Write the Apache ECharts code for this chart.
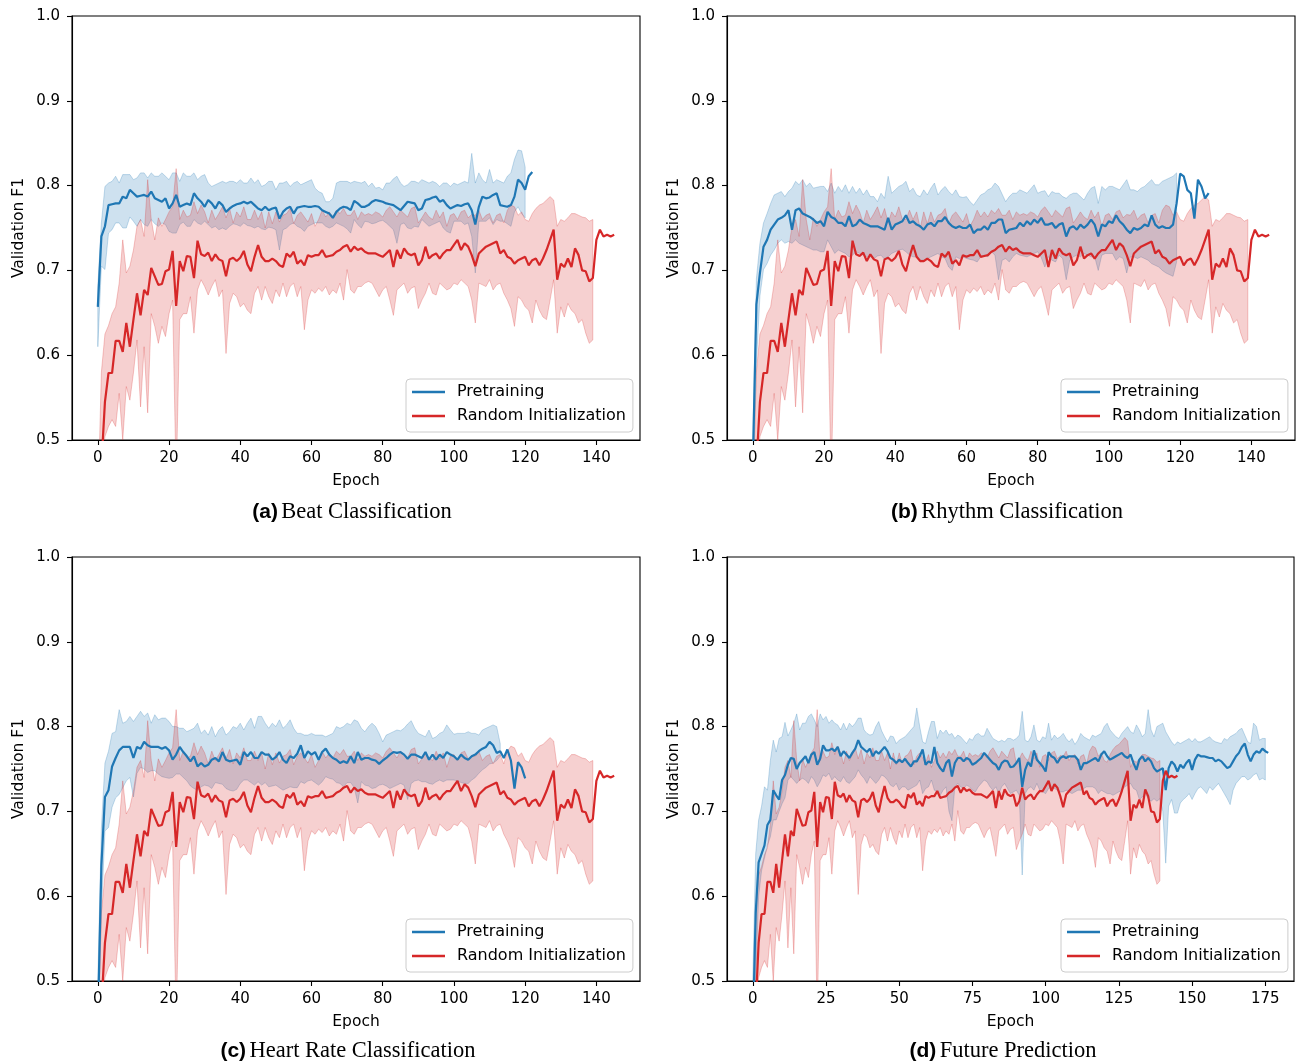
<!DOCTYPE html>
<html>
<head>
<meta charset="utf-8">
<script src="https://cdn.jsdelivr.net/npm/echarts@6/dist/echarts.min.js"></script>
<style>html,body{margin:0;padding:0;background:#fff}#c{width:1300px;height:1062px}</style>
</head>
<body>
<div id="c"></div>
<script>
// ---------- tick labels ----------
const EPOCH_TICKS_140 = [0, 20, 40, 60, 80, 100, 120, 140];
const EPOCH_TICKS_175 = [0, 25, 50, 75, 100, 125, 150, 175];
const F1_TICKS = [0.5, 0.6, 0.7, 0.8, 0.9, 1.0];
const SERIES_NAMES = ['Pretraining', 'Random Initialization'];

// ---------- Random Initialization (same run in all four panels) ----------
const randMean = [0.36,0.47,0.545,0.579,0.579,0.617,0.617,0.604,0.638,0.610,
 0.642,0.673,0.647,0.677,0.671,0.703,0.693,0.683,0.684,0.699,
 0.701,0.723,0.658,0.711,0.699,0.717,0.716,0.691,0.735,0.719,
 0.717,0.721,0.711,0.719,0.713,0.711,0.693,0.713,0.715,0.711,
 0.715,0.723,0.707,0.699,0.716,0.730,0.716,0.711,0.711,0.714,
 0.711,0.706,0.704,0.720,0.716,0.722,0.708,0.712,0.706,0.718,
 0.716,0.718,0.718,0.724,0.716,0.717,0.718,0.722,0.724,0.728,
 0.730,0.722,0.728,0.724,0.726,0.722,0.720,0.720,0.720,0.718,
 0.716,0.720,0.724,0.704,0.724,0.714,0.726,0.720,0.718,0.720,
 0.706,0.712,0.728,0.714,0.718,0.720,0.714,0.720,0.724,0.724,
 0.730,0.736,0.724,0.732,0.728,0.718,0.705,0.720,0.724,0.728,
 0.730,0.732,0.734,0.720,0.724,0.716,0.714,0.708,0.712,0.714,
 0.716,0.706,0.712,0.714,0.706,0.714,0.724,0.736,0.748,0.689,
 0.708,0.704,0.714,0.704,0.726,0.718,0.700,0.699,0.687,0.691,
 0.736,0.748,0.740,0.742,0.740,0.742];
const randLo = [0.30,0.46,0.504,0.516,0.524,0.516,0.555,0.500,0.563,0.547,
 0.579,0.618,0.539,0.610,0.532,0.649,0.634,0.614,0.634,0.622,
 0.649,0.665,0.45,0.642,0.649,0.649,0.669,0.626,0.677,0.689,
 0.681,0.671,0.681,0.689,0.669,0.677,0.602,0.661,0.673,0.669,
 0.657,0.661,0.653,0.649,0.673,0.681,0.665,0.681,0.669,0.661,
 0.677,0.669,0.685,0.669,0.681,0.685,0.669,0.681,0.630,0.665,
 0.677,0.673,0.679,0.675,0.681,0.671,0.677,0.673,0.685,0.665,
 0.701,0.677,0.673,0.681,0.681,0.685,0.687,0.685,0.677,0.669,
 0.677,0.681,0.665,0.647,0.677,0.681,0.685,0.673,0.679,0.681,
 0.655,0.665,0.673,0.685,0.673,0.671,0.685,0.681,0.677,0.679,
 0.685,0.683,0.689,0.685,0.681,0.665,0.638,0.685,0.683,0.681,
 0.689,0.677,0.683,0.685,0.673,0.665,0.655,0.634,0.669,0.665,
 0.657,0.653,0.638,0.665,0.653,0.645,0.642,0.665,0.689,0.626,
 0.657,0.645,0.661,0.653,0.649,0.638,0.642,0.626,0.614,0.618];
const randHi = [0.42,0.58,0.625,0.635,0.649,0.657,0.685,0.736,0.697,0.705,
 0.724,0.752,0.760,0.740,0.807,0.760,0.736,0.762,0.752,0.760,
 0.769,0.775,0.820,0.760,0.771,0.763,0.765,0.781,0.767,0.777,
 0.769,0.756,0.771,0.760,0.767,0.775,0.762,0.773,0.756,0.769,
 0.763,0.775,0.760,0.760,0.771,0.760,0.769,0.750,0.769,0.755,
 0.769,0.757,0.765,0.767,0.773,0.755,0.765,0.769,0.763,0.757,
 0.767,0.752,0.760,0.771,0.763,0.769,0.763,0.771,0.767,0.773,
 0.765,0.765,0.771,0.760,0.769,0.765,0.767,0.765,0.769,0.767,
 0.763,0.771,0.775,0.769,0.763,0.771,0.767,0.763,0.773,0.775,
 0.756,0.762,0.769,0.763,0.760,0.771,0.762,0.769,0.752,0.765,
 0.767,0.760,0.769,0.771,0.762,0.766,0.765,0.771,0.760,0.765,
 0.767,0.756,0.765,0.767,0.756,0.771,0.777,0.775,0.765,0.769,
 0.760,0.758,0.767,0.773,0.777,0.779,0.783,0.787,0.783,0.752,
 0.760,0.758,0.762,0.767,0.767,0.765,0.763,0.762,0.758,0.760];

// ---------- Pretraining: (a) Beat Classification ----------
const beatMean = [0.657,0.740,0.752,0.777,0.778,0.779,0.779,0.787,0.785,0.795,
 0.791,0.787,0.788,0.789,0.787,0.793,0.785,0.783,0.781,0.785,
 0.773,0.779,0.789,0.775,0.777,0.779,0.777,0.791,0.785,0.781,
 0.775,0.783,0.779,0.773,0.781,0.777,0.769,0.773,0.776,0.778,
 0.779,0.781,0.779,0.781,0.777,0.773,0.771,0.775,0.771,0.773,
 0.774,0.761,0.769,0.773,0.775,0.767,0.774,0.775,0.776,0.775,
 0.775,0.776,0.775,0.771,0.769,0.767,0.762,0.769,0.773,0.775,
 0.774,0.771,0.782,0.779,0.775,0.775,0.777,0.781,0.783,0.782,
 0.781,0.779,0.778,0.777,0.774,0.771,0.776,0.781,0.780,0.779,
 0.771,0.773,0.783,0.784,0.786,0.787,0.781,0.783,0.777,0.773,
 0.775,0.777,0.776,0.778,0.779,0.771,0.754,0.775,0.787,0.785,
 0.786,0.789,0.791,0.777,0.776,0.775,0.777,0.787,0.807,0.803,
 0.795,0.811,0.816];
const beatLo = [0.610,0.705,0.701,0.744,0.748,0.756,0.756,0.750,0.750,0.763,
 0.758,0.752,0.760,0.754,0.752,0.760,0.755,0.752,0.756,0.754,
 0.746,0.744,0.744,0.754,0.757,0.752,0.752,0.760,0.756,0.754,
 0.758,0.754,0.750,0.752,0.748,0.750,0.748,0.752,0.755,0.754,
 0.752,0.756,0.753,0.752,0.750,0.752,0.749,0.748,0.751,0.750,
 0.748,0.724,0.748,0.750,0.754,0.756,0.752,0.750,0.746,0.752,
 0.754,0.756,0.756,0.756,0.752,0.750,0.752,0.756,0.754,0.752,
 0.749,0.744,0.760,0.754,0.750,0.758,0.757,0.755,0.756,0.758,
 0.759,0.756,0.752,0.748,0.732,0.754,0.756,0.750,0.749,0.752,
 0.751,0.760,0.756,0.752,0.754,0.756,0.758,0.750,0.746,0.744,
 0.758,0.758,0.758,0.754,0.756,0.740,0.697,0.758,0.758,0.758,
 0.762,0.754,0.760,0.758,0.758,0.755,0.752,0.769,0.775,0.767,
 0.762];
const beatHi = [0.681,0.756,0.799,0.803,0.805,0.811,0.803,0.813,0.813,0.813,
 0.807,0.809,0.815,0.815,0.809,0.815,0.811,0.811,0.815,0.811,
 0.807,0.815,0.815,0.805,0.815,0.811,0.811,0.815,0.807,0.811,
 0.813,0.803,0.799,0.801,0.803,0.805,0.803,0.805,0.805,0.803,
 0.807,0.803,0.803,0.809,0.803,0.807,0.799,0.801,0.805,0.805,
 0.795,0.803,0.803,0.805,0.799,0.803,0.805,0.801,0.803,0.805,
 0.807,0.797,0.793,0.791,0.781,0.781,0.785,0.803,0.805,0.805,
 0.805,0.803,0.805,0.804,0.803,0.805,0.799,0.803,0.797,0.798,
 0.795,0.803,0.803,0.808,0.811,0.803,0.799,0.801,0.805,0.805,
 0.803,0.807,0.805,0.803,0.805,0.803,0.799,0.803,0.803,0.799,
 0.803,0.801,0.803,0.805,0.803,0.838,0.803,0.815,0.807,0.803,
 0.819,0.803,0.807,0.805,0.803,0.811,0.815,0.831,0.842,0.841,
 0.822];

// ---------- Pretraining: (b) Rhythm Classification ----------
const rhythmMean = [0.47,0.660,0.697,0.728,0.736,0.748,0.754,0.760,0.762,0.765,
 0.771,0.748,0.771,0.773,0.767,0.765,0.763,0.760,0.756,0.758,
 0.752,0.769,0.763,0.761,0.756,0.756,0.752,0.764,0.752,0.754,
 0.760,0.756,0.754,0.752,0.752,0.752,0.750,0.748,0.762,0.748,
 0.754,0.756,0.758,0.765,0.756,0.758,0.754,0.752,0.748,0.754,
 0.756,0.752,0.758,0.758,0.763,0.756,0.752,0.750,0.752,0.750,
 0.750,0.754,0.744,0.748,0.748,0.752,0.748,0.756,0.756,0.760,
 0.760,0.744,0.748,0.749,0.750,0.756,0.752,0.758,0.754,0.760,
 0.756,0.762,0.754,0.754,0.756,0.750,0.754,0.756,0.740,0.750,
 0.752,0.748,0.754,0.750,0.754,0.760,0.754,0.740,0.754,0.752,
 0.758,0.756,0.765,0.758,0.754,0.748,0.744,0.750,0.748,0.750,
 0.754,0.752,0.765,0.754,0.750,0.752,0.750,0.750,0.754,0.779,
 0.814,0.811,0.795,0.791,0.761,0.807,0.799,0.785,0.791];
const rhythmLo = [0.44,0.59,0.670,0.701,0.708,0.718,0.724,0.732,0.736,0.732,
 0.734,0.732,0.736,0.732,0.730,0.728,0.726,0.724,0.724,0.722,
 0.722,0.736,0.728,0.720,0.724,0.722,0.720,0.716,0.718,0.722,
 0.720,0.718,0.716,0.716,0.714,0.717,0.718,0.713,0.716,0.720,
 0.722,0.724,0.725,0.722,0.718,0.716,0.716,0.712,0.712,0.714,
 0.716,0.718,0.720,0.716,0.714,0.704,0.700,0.716,0.714,0.716,
 0.714,0.713,0.712,0.710,0.716,0.718,0.716,0.722,0.718,0.689,
 0.712,0.714,0.710,0.716,0.720,0.718,0.717,0.716,0.718,0.720,
 0.722,0.715,0.704,0.716,0.712,0.710,0.718,0.714,0.689,0.712,
 0.716,0.718,0.716,0.720,0.718,0.716,0.716,0.700,0.718,0.720,
 0.720,0.720,0.712,0.716,0.714,0.697,0.716,0.716,0.714,0.716,
 0.714,0.712,0.708,0.706,0.704,0.700,0.697,0.695,0.693,0.710];
const rhythmHi = [0.50,0.690,0.732,0.756,0.767,0.779,0.789,0.791,0.793,0.787,
 0.793,0.797,0.805,0.801,0.807,0.799,0.803,0.797,0.798,0.799,
 0.799,0.793,0.803,0.791,0.799,0.793,0.801,0.791,0.799,0.791,
 0.797,0.789,0.795,0.787,0.787,0.781,0.791,0.785,0.811,0.791,
 0.795,0.799,0.801,0.805,0.793,0.797,0.789,0.787,0.795,0.789,
 0.797,0.803,0.789,0.795,0.799,0.793,0.789,0.795,0.787,0.786,
 0.787,0.781,0.777,0.783,0.789,0.791,0.795,0.797,0.803,0.799,
 0.790,0.781,0.787,0.791,0.791,0.795,0.793,0.791,0.796,0.801,
 0.791,0.793,0.794,0.787,0.793,0.791,0.791,0.787,0.785,0.789,
 0.791,0.791,0.787,0.783,0.791,0.797,0.799,0.779,0.799,0.795,
 0.799,0.799,0.797,0.795,0.801,0.807,0.795,0.795,0.793,0.797,
 0.799,0.803,0.807,0.801,0.801,0.805,0.807,0.809,0.811,0.815];

// ---------- Pretraining: (c) Heart Rate Classification ----------
const hrMean = [0.45,0.636,0.717,0.725,0.753,0.763,0.772,0.776,0.776,0.776,
 0.763,0.776,0.774,0.782,0.778,0.776,0.776,0.776,0.774,0.776,
 0.772,0.761,0.767,0.776,0.770,0.765,0.759,0.765,0.753,0.757,
 0.753,0.755,0.761,0.763,0.759,0.770,0.761,0.759,0.760,0.761,
 0.755,0.770,0.765,0.770,0.763,0.763,0.770,0.767,0.767,0.761,
 0.764,0.770,0.761,0.757,0.765,0.763,0.768,0.778,0.763,0.771,
 0.767,0.770,0.761,0.770,0.774,0.767,0.763,0.761,0.757,0.759,
 0.757,0.765,0.757,0.770,0.761,0.763,0.763,0.761,0.760,0.756,
 0.760,0.763,0.767,0.770,0.769,0.770,0.767,0.762,0.767,0.767,
 0.765,0.763,0.770,0.761,0.767,0.761,0.767,0.763,0.770,0.767,
 0.765,0.761,0.767,0.763,0.761,0.765,0.767,0.771,0.774,0.776,
 0.782,0.778,0.769,0.771,0.763,0.773,0.760,0.727,0.758,0.752,
 0.739];
const hrLo = [0.44,0.58,0.677,0.681,0.705,0.716,0.720,0.728,0.736,0.740,
 0.717,0.745,0.752,0.750,0.746,0.748,0.748,0.744,0.741,0.740,
 0.739,0.740,0.744,0.744,0.740,0.736,0.730,0.727,0.725,0.729,
 0.731,0.730,0.727,0.734,0.733,0.732,0.727,0.725,0.724,0.726,
 0.733,0.737,0.737,0.734,0.731,0.735,0.731,0.734,0.729,0.730,
 0.731,0.728,0.725,0.727,0.729,0.728,0.728,0.735,0.733,0.736,
 0.737,0.734,0.731,0.735,0.741,0.739,0.738,0.734,0.733,0.729,
 0.734,0.734,0.728,0.710,0.735,0.731,0.730,0.727,0.728,0.731,
 0.732,0.730,0.727,0.729,0.731,0.733,0.731,0.714,0.733,0.736,
 0.737,0.735,0.735,0.733,0.732,0.735,0.737,0.735,0.737,0.737,
 0.737,0.736,0.734,0.733,0.733,0.737,0.740,0.745,0.749,0.752,
 0.756,0.757,0.760,0.765];
const hrHi = [0.50,0.68,0.757,0.771,0.792,0.794,0.820,0.804,0.806,0.812,
 0.806,0.812,0.818,0.812,0.816,0.804,0.814,0.808,0.810,0.810,
 0.806,0.800,0.800,0.798,0.798,0.794,0.796,0.798,0.804,0.792,
 0.796,0.790,0.800,0.788,0.796,0.800,0.790,0.794,0.800,0.798,
 0.804,0.796,0.804,0.810,0.798,0.812,0.812,0.804,0.798,0.804,
 0.800,0.808,0.798,0.802,0.808,0.798,0.792,0.792,0.790,0.790,
 0.792,0.790,0.790,0.790,0.788,0.790,0.792,0.800,0.798,0.800,
 0.804,0.802,0.808,0.806,0.798,0.794,0.800,0.804,0.800,0.792,
 0.782,0.790,0.792,0.794,0.796,0.795,0.798,0.803,0.807,0.798,
 0.792,0.790,0.788,0.796,0.786,0.788,0.792,0.794,0.802,0.796,
 0.791,0.792,0.792,0.792,0.794,0.792,0.792,0.790,0.796,0.798,
 0.800,0.802,0.800,0.780];

// ---------- Pretraining: (d) Future Prediction ----------
const futMean = [0.44,0.580,0.640,0.650,0.660,0.684,0.690,0.725,0.719,0.714,
 0.737,0.743,0.755,0.763,0.762,0.750,0.757,0.761,0.765,0.757,
 0.767,0.770,0.755,0.762,0.778,0.772,0.772,0.774,0.771,0.776,
 0.765,0.771,0.767,0.763,0.769,0.774,0.784,0.776,0.773,0.770,
 0.774,0.765,0.771,0.768,0.772,0.776,0.771,0.763,0.761,0.757,
 0.761,0.758,0.762,0.757,0.753,0.759,0.759,0.765,0.773,0.755,
 0.759,0.757,0.776,0.757,0.751,0.747,0.757,0.761,0.741,0.757,
 0.763,0.763,0.759,0.763,0.761,0.755,0.757,0.760,0.763,0.769,
 0.765,0.761,0.757,0.755,0.749,0.757,0.760,0.759,0.752,0.753,
 0.757,0.763,0.729,0.749,0.758,0.753,0.772,0.761,0.757,0.753,
 0.747,0.770,0.765,0.763,0.757,0.763,0.765,0.763,0.765,0.765,
 0.765,0.761,0.749,0.757,0.757,0.759,0.761,0.763,0.759,0.767,
 0.771,0.765,0.761,0.763,0.765,0.767,0.769,0.765,0.763,0.767,
 0.757,0.749,0.761,0.765,0.759,0.763,0.759,0.751,0.747,0.749,
 0.751,0.725,0.751,0.759,0.755,0.747,0.755,0.751,0.757,0.761,
 0.749,0.761,0.767,0.765,0.765,0.764,0.763,0.763,0.759,0.761,
 0.759,0.755,0.751,0.753,0.759,0.765,0.769,0.776,0.780,0.767,
 0.759,0.767,0.771,0.769,0.774,0.771,0.769];
const futLo = [0.44,0.50,0.600,0.630,0.645,0.660,0.670,0.690,0.690,0.700,
 0.709,0.716,0.737,0.741,0.737,0.733,0.737,0.739,0.737,0.733,
 0.741,0.737,0.729,0.735,0.743,0.741,0.745,0.737,0.741,0.737,
 0.735,0.741,0.735,0.733,0.737,0.741,0.749,0.743,0.739,0.733,
 0.741,0.737,0.733,0.737,0.743,0.741,0.737,0.731,0.729,0.733,
 0.725,0.729,0.729,0.725,0.727,0.729,0.731,0.737,0.721,0.727,
 0.729,0.737,0.725,0.723,0.719,0.725,0.729,0.700,0.689,0.729,
 0.733,0.729,0.727,0.731,0.729,0.725,0.723,0.729,0.733,0.737,
 0.735,0.729,0.725,0.729,0.721,0.729,0.733,0.727,0.721,0.723,
 0.725,0.719,0.625,0.721,0.727,0.729,0.725,0.733,0.725,0.723,
 0.721,0.727,0.729,0.727,0.725,0.723,0.723,0.725,0.723,0.721,
 0.723,0.725,0.725,0.727,0.729,0.729,0.729,0.727,0.721,0.725,
 0.723,0.721,0.721,0.719,0.721,0.723,0.725,0.729,0.731,0.733,
 0.727,0.725,0.714,0.717,0.721,0.715,0.712,0.715,0.712,0.715,
 0.700,0.639,0.706,0.714,0.698,0.698,0.710,0.714,0.717,0.721,
 0.714,0.721,0.727,0.729,0.725,0.721,0.729,0.725,0.729,0.733,
 0.727,0.721,0.715,0.708,0.725,0.733,0.737,0.741,0.741,0.737,
 0.739,0.743,0.745,0.737,0.739,0.737];
const futHi = [0.50,0.650,0.690,0.706,0.729,0.725,0.760,0.784,0.770,0.786,
 0.788,0.805,0.789,0.796,0.804,0.815,0.796,0.804,0.804,0.812,
 0.815,0.808,0.800,0.815,0.808,0.812,0.804,0.808,0.804,0.802,
 0.796,0.804,0.796,0.804,0.800,0.804,0.810,0.810,0.796,0.792,
 0.790,0.791,0.800,0.806,0.795,0.788,0.782,0.789,0.788,0.780,
 0.784,0.786,0.788,0.792,0.796,0.800,0.822,0.800,0.782,0.780,
 0.794,0.806,0.806,0.786,0.796,0.792,0.796,0.790,0.792,0.786,
 0.790,0.788,0.784,0.780,0.786,0.784,0.790,0.792,0.789,0.789,
 0.798,0.792,0.786,0.784,0.782,0.784,0.782,0.786,0.786,0.784,
 0.786,0.790,0.818,0.784,0.782,0.788,0.802,0.784,0.782,0.788,
 0.786,0.804,0.784,0.790,0.786,0.788,0.792,0.786,0.782,0.786,
 0.779,0.784,0.792,0.788,0.786,0.784,0.790,0.788,0.790,0.792,
 0.800,0.804,0.796,0.792,0.788,0.786,0.792,0.796,0.800,0.794,
 0.792,0.802,0.796,0.788,0.792,0.820,0.796,0.788,0.800,0.802,
 0.804,0.794,0.788,0.782,0.778,0.782,0.780,0.782,0.784,0.786,
 0.782,0.786,0.782,0.782,0.784,0.786,0.788,0.784,0.782,0.781,
 0.780,0.786,0.784,0.788,0.790,0.792,0.796,0.798,0.790,0.782,
 0.780,0.804,0.800,0.784,0.786,0.786];

// ---------- captions ----------
const CAPTIONS = [['(a)', 'Beat Classification'], ['(b)', 'Rhythm Classification'],
                  ['(c)', 'Heart Rate Classification'], ['(d)', 'Future Prediction']];

// ---------- layout / styling ----------
const BLUE = '#1f77b4', RED = '#d62728';
const BLUE_FILL = 'rgba(31,119,180,0.22)', RED_FILL = 'rgba(214,39,40,0.22)';
const BLUE_EDGE = 'rgba(31,119,180,0.25)', RED_EDGE = 'rgba(214,39,40,0.25)';
const FONT = 'DejaVu Sans';
const panels = [
  {grid: {left: 72, top: 16, width: 568, height: 424}, xMin: -7.25, xMax: 152.25, ticks: EPOCH_TICKS_140,
   mean: beatMean, lo: beatLo, hi: beatHi, cap: CAPTIONS[0], capX: 352, capY: 512, leg: {left: 406, top: 379}},
  {grid: {left: 727, top: 16, width: 568, height: 424}, xMin: -7.25, xMax: 152.25, ticks: EPOCH_TICKS_140,
   mean: rhythmMean, lo: rhythmLo, hi: rhythmHi, cap: CAPTIONS[1], capX: 1007, capY: 512, leg: {left: 1061, top: 379}},
  {grid: {left: 72, top: 557, width: 568, height: 424}, xMin: -7.25, xMax: 152.25, ticks: EPOCH_TICKS_140,
   mean: hrMean, lo: hrLo, hi: hrHi, cap: CAPTIONS[2], capX: 348, capY: 1051, leg: {left: 406, top: 919}},
  {grid: {left: 727, top: 557, width: 567, height: 424}, xMin: -8.8, xMax: 184.8, ticks: EPOCH_TICKS_175,
   mean: futMean, lo: futLo, hi: futHi, cap: CAPTIONS[3], capX: 1003, capY: 1051, leg: {left: 1061, top: 919}}
];

const pts = arr => arr.map((v, i) => [i, v]);

// band drawn as one polygon through the axes' own coordinate mapping
function bandSeries(k, lo, hi, fill, edge) {
  return {
    type: 'custom', xAxisIndex: k, yAxisIndex: k, silent: true, clip: true, z: 1,
    data: lo.map((v, i) => [i, v, hi[i]]),
    encode: {x: 0, y: [1, 2]},
    renderItem: function (params, api) {
      if (params.dataIndex !== 0) return null;
      const upper = hi.map((v, i) => api.coord([i, v]));
      const lower = lo.map((v, i) => api.coord([i, v])).reverse();
      const cs = params.coordSys;
      return {
        type: 'polygon',
        shape: {points: upper.concat(lower)},
        style: {fill: fill, stroke: edge, lineWidth: 1},
        clipPath: {type: 'rect', shape: {x: cs.x, y: cs.y, width: cs.width, height: cs.height}}
      };
    }
  };
}

const grids = [], xAxes = [], yAxes = [], series = [], legends = [], graphics = [];
panels.forEach((p, k) => {
  grids.push(Object.assign({show: true, borderColor: '#000', borderWidth: 1.1, backgroundColor: 'transparent'}, p.grid));
  xAxes.push({
    type: 'value', gridIndex: k, min: p.xMin, max: p.xMax,
    name: 'Epoch', nameLocation: 'middle', nameGap: 33,
    nameTextStyle: {fontFamily: FONT, fontSize: 15.5, color: '#000'},
    axisLine: {show: true, onZero: false, lineStyle: {color: '#000', width: 1.1}},
    axisTick: {show: true, length: 5, customValues: p.ticks, lineStyle: {color: '#000', width: 1.1}},
    axisLabel: {customValues: p.ticks, margin: 11, fontFamily: FONT, fontSize: 15, color: '#000'},
    splitLine: {show: false}
  });
  yAxes.push({
    type: 'value', gridIndex: k, min: 0.5, max: 1.0,
    name: 'Validation F1', nameLocation: 'middle', nameGap: 45,
    nameTextStyle: {fontFamily: FONT, fontSize: 15.5, color: '#000'},
    axisLine: {show: true, onZero: false, lineStyle: {color: '#000', width: 1.1}},
    axisTick: {show: true, length: 5, customValues: F1_TICKS, lineStyle: {color: '#000', width: 1.1}},
    axisLabel: {customValues: F1_TICKS, margin: 12, fontFamily: FONT, fontSize: 15, color: '#000',
                formatter: v => v.toFixed(1)},
    splitLine: {show: false}
  });
  series.push(bandSeries(k, p.lo, p.hi, BLUE_FILL, BLUE_EDGE));
  series.push(bandSeries(k, randLo, randHi, RED_FILL, RED_EDGE));
  series.push({type: 'line', name: SERIES_NAMES[0], xAxisIndex: k, yAxisIndex: k, data: pts(p.mean),
    symbol: 'none', color: BLUE, itemStyle: {color: BLUE}, lineStyle: {color: BLUE, width: 2.2}, z: 3});
  series.push({type: 'line', name: SERIES_NAMES[1], xAxisIndex: k, yAxisIndex: k, data: pts(randMean),
    symbol: 'none', color: RED, itemStyle: {color: RED}, lineStyle: {color: RED, width: 2.2}, z: 3});
  legends.push({
    data: SERIES_NAMES, orient: 'vertical', left: p.leg.left, top: p.leg.top,
    icon: 'rect', itemWidth: 33, itemHeight: 2.4, itemGap: 6, selectedMode: false,
    padding: [4, 7, 7, 6], backgroundColor: 'rgba(255,255,255,0.85)',
    borderColor: '#cccccc', borderWidth: 1, borderRadius: 4,
    textStyle: {fontFamily: FONT, fontSize: 16, color: '#000', lineHeight: 18, padding: [0, 0, 0, 7]}
  });
  graphics.push({
    type: 'text', x: p.capX, y: p.capY,
    style: {
      text: '{b|' + p.cap[0] + '} {s|' + p.cap[1] + '}',
      align: 'center', verticalAlign: 'middle',
      rich: {
        b: {fontFamily: 'Liberation Sans', fontWeight: 'bold', fontSize: 21, fill: '#000'},
        s: {fontFamily: 'Liberation Serif', fontSize: 22.5, fill: '#000'}
      }
    }
  });
});

const chart = echarts.init(document.getElementById('c'), null, {renderer: 'canvas'});
chart.setOption({
  animation: false,
  backgroundColor: '#fff',
  grid: grids, xAxis: xAxes, yAxis: yAxes,
  series: series, legend: legends, graphic: graphics
});
</script>
</body>
</html>
